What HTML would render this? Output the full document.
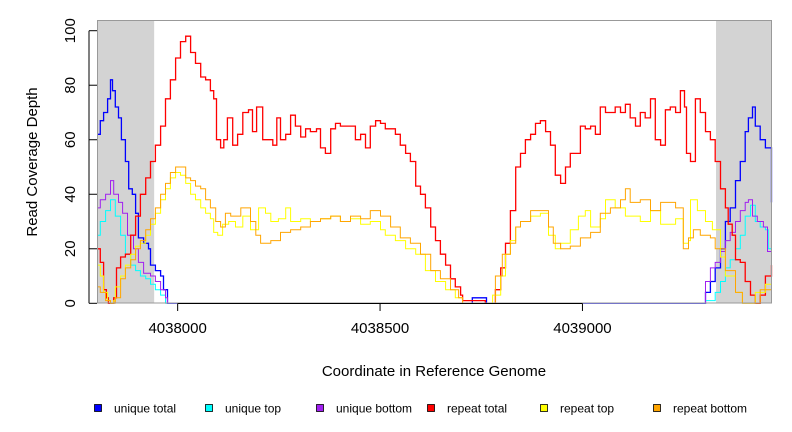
<!DOCTYPE html>
<html><head><meta charset="utf-8"><style>
body{margin:0;background:#fff}
svg{display:block;font-family:"Liberation Sans",sans-serif}
</style></head><body>
<svg id="chart" width="792" height="432" viewBox="0 0 792 432">
<rect x="0" y="0" width="792" height="432" fill="#fff"/>
<g id="shade"></g>
<g id="series"></g>
<rect x="97.5" y="20.5" width="674" height="282.5" fill="none" stroke="#999" stroke-width="1"/>
<g id="axes"></g>
<text x="434" y="376" font-size="15" text-anchor="middle" fill="#000">Coordinate in Reference Genome</text>
<text transform="translate(37,162) rotate(-90)" font-size="15" text-anchor="middle" fill="#000">Read Coverage Depth</text>
<g id="legend"></g>
</svg>
<script>
const BASE = 4037000;
const xDomain = [802, 2467];
const yDomain = [0, 100];
const shadeRegions = [[802, 942], [2330, 2467]];
const xTicks = [4038000, 4038500, 4039000];
const yTicks = [0, 20, 40, 60, 80, 100];
const seriesNames = ["unique total","unique top","unique bottom","repeat total","repeat top","repeat bottom"];
const seriesColors = ["#0000ff","#00ffff","#a020f0","#ff0000","#ffff00","#ffa500"];

const uniqueTotalX = [802,809,817,827,834,839,846,854,861,871,879,888,896,903,916,928,933,945,958,965,975,1726,1728,1763,2291,2304,2316,2328,2341,2353,2365,2378,2390,2402,2410,2420,2427,2439,2452,2459,2467];
const uniqueTotalY = [62,67,70,75,82,78,72,68,60,52,42,40,33,24,22,20,14,12,10,5,0,0,2,0,0,4,8,13,20,30,35,45,52,63,68,72,65,60,57,57,37];
const uniqueTopX = [802,809,822,834,846,859,871,884,896,908,921,933,945,958,970,2291,2304,2328,2341,2353,2365,2378,2390,2402,2415,2427,2439,2452,2459,2467];
const uniqueTopY = [25,30,34,38,32,25,18,14,12,10,9,7,5,3,0,0,1,4,8,13,16,20,25,32,36,30,28,27,20,21];
const uniqueBottomX = [802,809,822,834,842,854,864,876,891,903,916,933,945,958,970,975,2286,2304,2316,2328,2341,2353,2365,2378,2390,2402,2410,2420,2432,2447,2457,2467];
const uniqueBottomY = [35,38,40,45,40,37,33,25,20,15,11,10,8,5,2,0,0,8,13,15,19,23,26,30,34,37,38,32,30,28,19,17];
const repeatTotalX = [802,809,817,824,829,839,842,849,859,871,884,896,908,921,933,945,958,970,982,995,1007,1020,1032,1044,1057,1069,1081,1089,1096,1106,1114,1123,1136,1148,1161,1175,1185,1195,1210,1225,1235,1245,1254,1267,1279,1291,1304,1316,1328,1343,1353,1365,1378,1390,1402,1415,1427,1439,1452,1464,1476,1489,1501,1513,1526,1538,1550,1563,1575,1588,1600,1612,1625,1637,1649,1662,1674,1686,1699,1704,1760,1773,1785,1798,1810,1822,1835,1847,1859,1872,1884,1896,1909,1921,1933,1946,1958,1970,1983,1995,2007,2020,2032,2044,2057,2069,2081,2094,2106,2118,2131,2143,2155,2168,2180,2193,2205,2217,2230,2242,2252,2257,2267,2279,2291,2304,2316,2328,2341,2353,2360,2370,2378,2390,2402,2415,2427,2439,2452,2467];
const repeatTotalY = [20,15,5,2,0,0,2,13,17,18,25,32,40,46,52,58,65,75,82,90,96,98,92,88,83,82,78,75,60,57,60,68,58,62,70,71,63,72,60,60,58,68,60,62,69,65,61,64,63,64,57,55,64,66,65,65,65,60,62,57,65,67,66,64,64,62,58,55,52,43,40,35,28,23,18,14,9,6,3,1,0,0,5,13,22,34,50,55,60,62,66,67,63,58,47,44,50,55,55,65,64,65,62,72,70,70,72,70,73,68,65,70,68,75,60,58,71,72,70,78,72,55,52,75,70,63,60,52,42,35,29,25,16,15,8,3,0,3,10,14,16];
const repeatTopX = [802,809,817,827,834,842,846,859,871,884,896,908,921,933,945,958,970,982,995,1007,1020,1032,1044,1057,1069,1081,1089,1099,1111,1126,1143,1161,1180,1200,1217,1230,1249,1267,1279,1304,1328,1353,1378,1402,1427,1452,1476,1501,1513,1538,1563,1588,1612,1637,1662,1686,1704,1760,1778,1798,1810,1822,1835,1847,1872,1896,1916,1933,1946,1970,1990,2007,2020,2044,2057,2081,2106,2143,2168,2193,2205,2230,2249,2262,2267,2284,2304,2321,2341,2353,2378,2395,2415,2427,2452,2467];
const repeatTopY = [14,10,4,1,0,1,6,10,14,18,21,22,25,29,33,38,42,46,48,47,44,40,38,35,33,31,26,25,29,30,28,32,27,35,33,30,31,35,30,31,30,31,32,30,31,29,30,27,25,23,20,18,12,8,5,2,0,0,3,10,18,23,28,30,32,33,25,20,22,27,32,34,28,31,38,35,32,30,34,29,29,31,22,23,38,34,30,27,17,10,4,0,0,4,7,8];
const repeatBottomX = [802,809,822,834,846,859,871,884,896,908,921,933,945,958,970,982,995,1007,1020,1032,1044,1057,1069,1081,1094,1106,1118,1131,1156,1180,1193,1205,1230,1254,1279,1304,1328,1353,1378,1402,1427,1452,1476,1501,1526,1550,1575,1600,1625,1649,1674,1694,1704,1765,1785,1802,1822,1835,1847,1872,1896,1916,1928,1946,1970,1995,2020,2044,2069,2094,2106,2118,2143,2168,2193,2205,2230,2249,2262,2274,2291,2316,2328,2353,2378,2395,2415,2439,2467];
const repeatBottomY = [6,4,1,0,2,9,13,16,20,23,27,31,35,40,44,48,50,50,46,45,43,42,38,35,30,28,33,32,35,30,25,22,23,26,27,28,30,31,32,30,32,31,34,32,28,24,22,18,12,9,5,2,0,0,10,18,22,28,30,34,34,28,22,20,21,24,26,33,35,38,42,37,38,34,37,37,35,20,24,27,25,24,20,12,4,0,0,5,8];

const seriesX = [uniqueTotalX, uniqueTopX, uniqueBottomX, repeatTotalX, repeatTopX, repeatBottomX];
const seriesY = [uniqueTotalY, uniqueTopY, uniqueBottomY, repeatTotalY, repeatTopY, repeatBottomY];

const NS = "http://www.w3.org/2000/svg";
const PX0 = 97.5, PX1 = 771.5, PY0 = 303.3, PY1 = 30.7;
function sx(v){ return PX0 + (v - xDomain[0]) / (xDomain[1] - xDomain[0]) * (PX1 - PX0); }
function sy(v){ return PY0 - (v - yDomain[0]) / (yDomain[1] - yDomain[0]) * (PY0 - PY1); }
function mk(tag, attrs, parent){ const e = document.createElementNS(NS, tag); for (const k in attrs) e.setAttribute(k, attrs[k]); parent.appendChild(e); return e; }

const shade = document.getElementById('shade');
shadeRegions.forEach(function(r){
  const e = mk('rect', {x: sx(r[0]), y: 20.5, width: sx(r[1]) - sx(r[0]), height: 282.8, fill: '#d3d3d3'}, shade);
  
  
});

const sg = document.getElementById('series');
for (let s = 0; s < seriesX.length; s++) {
  const xs = seriesX[s], ys = seriesY[s];
  let d = 'M' + sx(xs[0]).toFixed(1) + ',' + sy(ys[0]).toFixed(1);
  for (let i = 1; i < xs.length; i++) {
    d += 'H' + sx(xs[i]).toFixed(1) + 'V' + sy(ys[i]).toFixed(1);
  }
  const w = (s === 0 || s === 3) ? 1.3 : 1;
  const p = mk('path', {d: d, fill: 'none', stroke: seriesColors[s], 'stroke-width': w}, sg);
  
  
}

const ax = document.getElementById('axes');
const xl = mk('line', {x1: sx(xTicks[0]-BASE), x2: sx(xTicks[xTicks.length-1]-BASE), y1: 303.5, y2: 303.5, stroke: '#000'}, ax);


xTicks.forEach(function(t){
  const x = sx(t - BASE);
  mk('line', {x1: x, x2: x, y1: 303.5, y2: 311, stroke: '#000'}, ax);
  const tx = mk('text', {x: x, y: 333, 'font-size': 15, 'text-anchor': 'middle'}, ax);
  tx.textContent = t;
  
  
});
const yl = mk('line', {x1: 89, x2: 89, y1: sy(0), y2: sy(100), stroke: '#000'}, ax);


yTicks.forEach(function(t){
  const y = sy(t);
  mk('line', {x1: 89, x2: 97, y1: y, y2: y, stroke: '#000'}, ax);
  const tx = mk('text', {transform: 'translate(75,' + y + ') rotate(-90)', 'font-size': 15, 'text-anchor': 'middle'}, ax);
  tx.textContent = t;
  
  
});

const lg = document.getElementById('legend');
const legX = [94, 205, 316, 427, 540, 653];
seriesNames.forEach(function(n, i){
  const g = mk('g', {}, lg);
  
  
  mk('rect', {x: legX[i] + 0.5, y: 404.5, width: 7, height: 7, fill: seriesColors[i], stroke: '#000', 'stroke-width': 0.8}, g);
  const t = mk('text', {x: legX[i] + 20, y: 412.5, 'font-size': 12}, g);
  t.textContent = n;
});
</script>
</body></html>
